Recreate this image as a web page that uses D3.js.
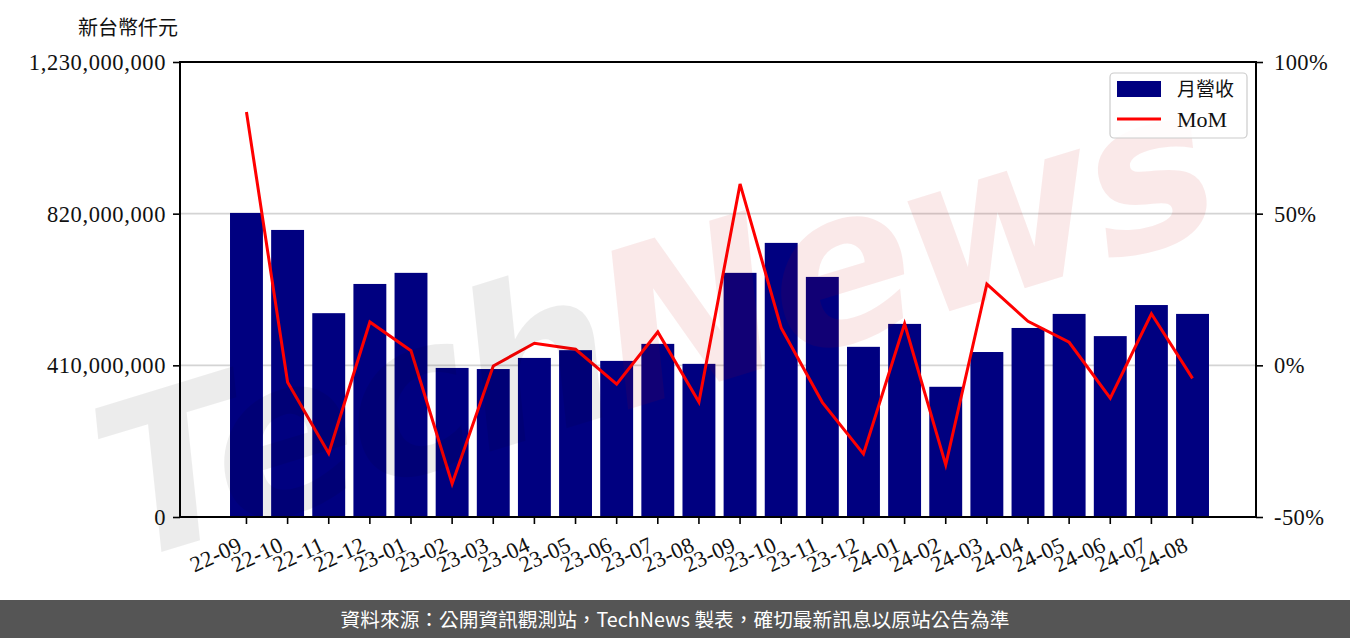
<!DOCTYPE html>
<html lang="zh-TW">
<head>
<meta charset="utf-8">
<script src="https://cdn.jsdelivr.net/npm/d3@7"></script>
<style>
  html, body { margin: 0; padding: 0; background: #fff; }
  svg { display: block; }
</style>
</head>
<body>
<svg id="chart" width="1350" height="638"></svg>
<script>
const categories = ["22-09","22-10","22-11","22-12","23-01","23-02","23-03","23-04","23-05","23-06","23-07","23-08",
                    "23-09","23-10","23-11","23-12","24-01","24-02","24-03","24-04","24-05","24-06","24-07","24-08"];
const revenue = [822e6, 776e6, 551e6, 630e6, 660e6, 403e6, 400e6, 430e6, 451e6, 422e6, 468e6, 414e6,
                 660e6, 741e6, 649e6, 460e6, 522e6, 352e6, 446e6, 511e6, 549e6, 489e6, 573e6, 549e6];
const mom = [0.835, -0.056, -0.290, 0.143, 0.048, -0.390, -0.002, 0.073, 0.053, -0.062, 0.110, -0.121,
             0.598, 0.123, -0.122, -0.292, 0.137, -0.328, 0.268, 0.145, 0.076, -0.108, 0.170, -0.043];
const leftTicks = [0, 410e6, 820e6, 1230e6];
const rightTicks = [-0.5, 0, 0.5, 1.0];
const gridTicks = [410e6, 820e6];
const yAxisTitle = "新台幣仟元";
const legendLabels = ["月營收", "MoM"];
const footerText = "資料來源：公開資訊觀測站，TechNews 製表，確切最新訊息以原站公告為準";

const svg = d3.select("#chart");
const W = 1350, H = 638;
const plot = {left: 180, right: 1256, top: 62, bottom: 517};
const serif = "'Liberation Serif', 'DejaVu Serif', serif";
const cjk = "'Noto Sans CJK TC', 'Noto Sans CJK SC', sans-serif";

const x = d3.scaleBand().domain(categories).range([225.9, 1213.1]).paddingInner(0.2).paddingOuter(0.1);
const yL = d3.scaleLinear().domain([0, 1230e6]).range([plot.bottom, plot.top]);
const yR = d3.scaleLinear().domain([-0.5, 1.0]).range([plot.bottom, plot.top]);

// grid
svg.append("g").selectAll("line").data(gridTicks).join("line")
  .attr("x1", plot.left).attr("x2", plot.right)
  .attr("y1", d => yL(d)).attr("y2", d => yL(d))
  .attr("stroke", "#d4d4d4").attr("stroke-width", 1.6);

// bars
svg.append("g").selectAll("rect").data(categories).join("rect")
  .attr("x", d => x(d))
  .attr("width", x.bandwidth())
  .attr("y", (d, i) => yL(revenue[i]))
  .attr("height", (d, i) => yL(0) - yL(revenue[i]))
  .attr("fill", "#000080");

// line
const line = d3.line().x((d, i) => x(categories[i]) + x.bandwidth() / 2).y(d => yR(d));
svg.append("path").datum(mom).attr("d", line)
  .attr("fill", "none").attr("stroke", "#ff0000").attr("stroke-width", 3).attr("stroke-linejoin", "miter");

// watermark
const wm = svg.append("g").attr("transform", "translate(675,395) rotate(-17)")
  .attr("pointer-events", "none");
const wt = wm.append("text").attr("text-anchor", "middle")
  .style("font-family", "'DejaVu Sans', sans-serif").style("font-weight", "bold").style("font-style", "italic")
  .style("font-size", "215px").attr("letter-spacing", "-6");
wt.append("tspan").text("Tech").attr("fill", "#000").attr("fill-opacity", 0.075);
wt.append("tspan").text("News").attr("fill", "#c80000").attr("fill-opacity", 0.085);

// axes
const axL = d3.axisLeft(yL).tickValues(leftTicks).tickFormat(d3.format(",")).tickSize(7).tickSizeOuter(0);
const axR = d3.axisRight(yR).tickValues(rightTicks).tickFormat(d => Math.round(d * 100) + "%").tickSize(7).tickSizeOuter(0);
const axB = d3.axisBottom(x).tickSize(7).tickSizeOuter(0);

const gL = svg.append("g").attr("transform", `translate(${plot.left},0)`).call(axL);
const gR = svg.append("g").attr("transform", `translate(${plot.right},0)`).call(axR);
const gB = svg.append("g").attr("transform", `translate(0,${plot.bottom})`).call(axB);
[gL, gR, gB].forEach(g => {
  g.select(".domain").remove();
  g.selectAll(".tick line").attr("stroke", "#000").attr("stroke-width", 1.6);
  g.selectAll(".tick text").attr("fill", "#111").style("font-family", serif).style("font-size", "22.5px");
});
gL.selectAll(".tick text").attr("x", -14).attr("dy", "0.33em").attr("letter-spacing", "0.6");
gR.selectAll(".tick text").attr("x", 18).attr("dy", "0.33em").attr("letter-spacing", "0.4");
gB.selectAll(".tick text")
  .attr("text-anchor", "end").attr("dy", 0).attr("y", 0).attr("letter-spacing", "0.3")
  .attr("transform", "translate(-3,33) rotate(-25)");

// frame
svg.append("rect").attr("x", plot.left).attr("y", plot.top)
  .attr("width", plot.right - plot.left).attr("height", plot.bottom - plot.top)
  .attr("fill", "none").attr("stroke", "#000").attr("stroke-width", 2);

// y axis title
svg.append("text").attr("x", 128).attr("y", 35).attr("text-anchor", "middle").attr("lang", "zh-TW")
  .style("font-family", cjk).style("font-size", "20px").attr("fill", "#111").text(yAxisTitle);

// legend
const lg = svg.append("g");
lg.append("rect").attr("x", 1110).attr("y", 73).attr("width", 137).attr("height", 65)
  .attr("rx", 4).attr("fill", "#fff").attr("fill-opacity", 0.85)
  .attr("stroke", "#cccccc").attr("stroke-width", 1.2);
lg.append("rect").attr("x", 1117).attr("y", 81).attr("width", 44).attr("height", 16).attr("fill", "#000080");
lg.append("line").attr("x1", 1117).attr("x2", 1161).attr("y1", 119).attr("y2", 119)
  .attr("stroke", "#ff0000").attr("stroke-width", 3);
lg.append("text").attr("x", 1177).attr("y", 96).text(legendLabels[0]).attr("lang", "zh-TW")
  .style("font-family", cjk).style("font-size", "19px").attr("fill", "#111");
lg.append("text").attr("x", 1177).attr("y", 127).text(legendLabels[1])
  .style("font-family", serif).style("font-size", "22px").attr("fill", "#111");

// footer
svg.append("rect").attr("x", 0).attr("y", 600).attr("width", W).attr("height", 38).attr("fill", "#555555");
svg.append("text").attr("x", 675).attr("y", 627).attr("text-anchor", "middle").attr("lang", "zh-TW")
  .style("font-family", cjk).style("font-size", "19.7px").attr("fill", "#fff").text(footerText);
</script>
</body>
</html>
